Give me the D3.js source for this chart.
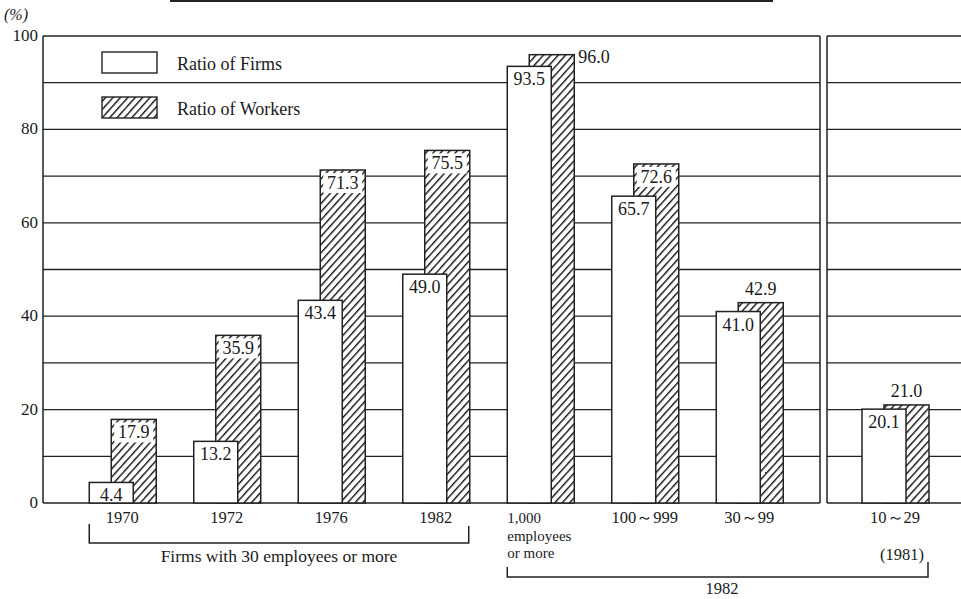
<!DOCTYPE html>
<html>
<head>
<meta charset="utf-8">
<script src="https://cdn.jsdelivr.net/npm/d3@7"></script>
<style>
body { margin: 0; background: #fff; }
</style>
</head>
<body>
<div id="chart"></div>
<script>
var width = 961;
var height = 599;

// data
var leftCats = ["1970", "1972", "1976", "1982", "1,000", "100～999", "30～99"];
var rightCats = ["10～29"];
var firms = [4.4, 13.2, 43.4, 49.0, 93.5, 65.7, 41.0, 20.1];
var workers = [17.9, 35.9, 71.3, 75.5, 96.0, 72.6, 42.9, 21.0];
var catLines = [["1970"], ["1972"], ["1976"], ["1982"], ["1,000", "employees", "or more"], ["100～999"], ["30～99"], ["10～29"]];
var yLabels = [0, 20, 40, 60, 80, 100];
var legendNames = ["Ratio of Firms", "Ratio of Workers"];

var PLOT_TOP = 36;
var PLOT_BOTTOM = 503;
var AXIS_X = 43;
var LEFT_END = 820;
var RIGHT_START = 827;
var BAR_W = 44;
var BAR_SHIFT = 22;
var SERIF = "'Liberation Serif'";
var INK = "#1a1a1a";

var svg = d3.select("#chart").append("svg")
    .attr("width", width)
    .attr("height", height);

// text helper, everything serif like the print
var label = function (g, x, yy, txt, size, anchor) {
    return g.append("text")
        .attr("x", x)
        .attr("y", yy)
        .attr("font-family", SERIF)
        .attr("font-size", size)
        .attr("text-anchor", anchor || "start")
        .attr("fill", INK)
        .text(txt);
};

var defs = svg.append("defs");
var pat = defs.append("pattern")
    .attr("id", "hatch")
    .attr("patternUnits", "userSpaceOnUse")
    .attr("width", 5.5)
    .attr("height", 5.5)
    .attr("patternTransform", "rotate(42)");
pat.append("rect").attr("width", 5.5).attr("height", 5.5).attr("fill", "#fff");
pat.append("line")
    .attr("x1", 0.7).attr("x2", 0.7)
    .attr("y1", 0).attr("y2", 5.5)
    .attr("stroke", "#111")
    .attr("stroke-width", 1.4);

var y = d3.scaleLinear().domain([0, 100]).range([PLOT_BOTTOM, PLOT_TOP]);

var xL = d3.scaleBand().domain(leftCats).range([70, 801.5]);
var xR = d3.scaleBand().domain(rightCats).range([843, 947]);

var allCats = leftCats.concat(rightCats);
var center = function (i) {
    var c = allCats[i];
    if (i < leftCats.length) return xL(c) + xL.bandwidth() / 2;
    return xR(c) + xR.bandwidth() / 2;
};

// top scan edge line
svg.append("line")
    .attr("x1", 170).attr("x2", 773)
    .attr("y1", 1).attr("y2", 1)
    .attr("stroke", "#222").attr("stroke-width", 2);

// gridlines for both panels
var grid = svg.append("g");
var gridVals = y.ticks(10).filter(function (d) { return d > 0; });
[[AXIS_X, LEFT_END], [RIGHT_START, width]].forEach(function (p) {
    grid.selectAll(null)
        .data(gridVals)
        .enter().append("line")
        .attr("x1", p[0]).attr("x2", p[1])
        .attr("y1", function (d) { return y(d); })
        .attr("y2", function (d) { return y(d); })
        .attr("stroke", "#222")
        .attr("stroke-width", 1.3);
    grid.append("line")
        .attr("x1", p[0]).attr("x2", p[1])
        .attr("y1", y(0)).attr("y2", y(0))
        .attr("stroke", "#222").attr("stroke-width", 1.6);
});
[AXIS_X, LEFT_END, RIGHT_START].forEach(function (xv) {
    grid.append("line")
        .attr("x1", xv).attr("x2", xv)
        .attr("y1", y(100)).attr("y2", y(0))
        .attr("stroke", "#222").attr("stroke-width", 1.5);
});

// y labels
yLabels.forEach(function (d) {
    label(svg, AXIS_X - 5, y(d) + 5, d, 17, "end");
});
label(svg, 4, 20, "(%)", 16, "start").attr("font-style", "italic");

// legend
var legend = svg.append("g");
legendNames.forEach(function (name, i) {
    legend.append("rect")
        .attr("x", 102).attr("y", 52 + i * 45)
        .attr("width", 55).attr("height", 21)
        .attr("fill", i == 0 ? "#fff" : "url(#hatch)")
        .attr("stroke", "#222").attr("stroke-width", 1.4);
    label(legend, 177, 70 + i * 45, name, 18, "start");
});

// bars
var bars = svg.append("g");
firms.forEach(function (f, i) {
    var c = center(i);
    var w = workers[i];
    var fx = c - BAR_W / 2 - BAR_SHIFT / 2;
    var wx = fx + BAR_SHIFT;

    // workers bar (behind)
    bars.append("rect")
        .attr("x", wx).attr("y", y(w))
        .attr("width", BAR_W + 1).attr("height", y(0) - y(w))
        .attr("fill", "url(#hatch)")
        .attr("stroke", "#222").attr("stroke-width", 1.5);

    var mode = "inside";
    if (w > 90) mode = "right";
    else if (w - f < 5) mode = "above";

    if (mode == "inside") {
        bars.append("rect")
            .attr("x", wx + 3).attr("y", y(w) + 3)
            .attr("width", BAR_W - 5).attr("height", 20)
            .attr("fill", "#fff");
        label(bars, wx + (BAR_W + 1) / 2, y(w) + 19, w.toFixed(1), 18, "middle");
    } else if (mode == "right") {
        label(bars, wx + BAR_W + 5, y(w) + 8, w.toFixed(1), 18, "start");
    } else {
        label(bars, wx + (BAR_W + 1) / 2, y(w) - 8, w.toFixed(1), 18, "middle");
    }

    // firms bar (front)
    bars.append("rect")
        .attr("x", fx).attr("y", y(f))
        .attr("width", BAR_W).attr("height", y(0) - y(f))
        .attr("fill", "#fff")
        .attr("stroke", "#222").attr("stroke-width", 1.5);
    label(bars, fx + BAR_W / 2, y(f) + 19, f.toFixed(1), 18, "middle");

    // category label
    var lines = catLines[i];
    lines.forEach(function (t, k) {
        label(svg, lines.length > 1 ? fx : c, 523 + k * 17.5, t,
            lines.length > 1 ? 15 : 16.5,
            lines.length > 1 ? "start" : "middle");
    });
});

// brackets
var bk = svg.append("g")
    .attr("fill", "none")
    .attr("stroke", "#222")
    .attr("stroke-width", 1.5);
var b1L = center(0) - BAR_W / 2 - BAR_SHIFT / 2;
var b1R = center(3) + BAR_W / 2 + BAR_SHIFT / 2;
bk.append("path")
    .attr("d", "M" + b1L + ",524 V543 H" + b1R + " V526");
label(svg, (b1L + b1R) / 2, 562, "Firms with 30 employees or more", 17.5, "middle");

var b2L = center(4) - BAR_W / 2 - BAR_SHIFT / 2;
var b2R = center(7) + BAR_W / 2 + BAR_SHIFT / 2;
bk.append("path")
    .attr("d", "M" + b2L + ",567 V577 H" + b2R + " V562");
label(svg, b2R - 4, 560, "(1981)", 16.5, "end");
label(svg, 722, 594, "1982", 16.5, "middle");
</script>
</body>
</html>
